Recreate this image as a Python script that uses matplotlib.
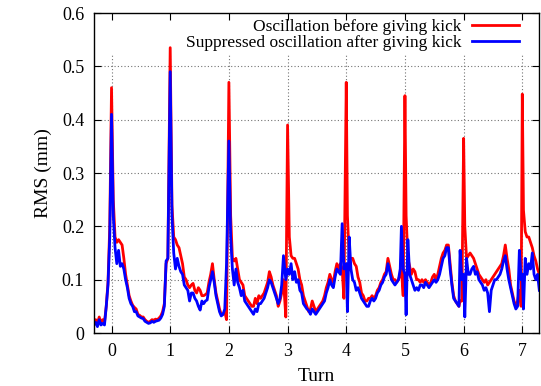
import matplotlib.pyplot as plt
from matplotlib.ticker import FixedLocator

plt.rcParams['font.family'] = ['Liberation Serif', 'DejaVu Serif']

turn = [-0.30, -0.27, -0.24, -0.21, -0.18, -0.15, -0.12, -0.09, -0.06, -0.03,
        0.00, 0.03, 0.06, 0.09, 0.12, 0.15, 0.18, 0.21, 0.24, 0.27,
        0.30, 0.33, 0.36, 0.39, 0.42, 0.45, 0.48, 0.51, 0.54, 0.57,
        0.60, 0.63, 0.66, 0.69, 0.72, 0.75, 0.78, 0.81, 0.84, 0.87,
        0.90, 0.93, 0.96, 1.00, 1.03, 1.06, 1.09, 1.12, 1.15, 1.18,
        1.21, 1.24, 1.27, 1.30, 1.33, 1.36, 1.39, 1.42, 1.45, 1.48,
        1.51, 1.54, 1.57, 1.60, 1.63, 1.66, 1.69, 1.72, 1.75, 1.78,
        1.81, 1.84, 1.87, 1.90, 1.93, 1.96, 2.00, 2.03, 2.06, 2.09,
        2.12, 2.15, 2.18, 2.21, 2.24, 2.27, 2.30, 2.33, 2.36, 2.39,
        2.42, 2.45, 2.48, 2.51, 2.54, 2.57, 2.60, 2.63, 2.66, 2.69,
        2.72, 2.75, 2.78, 2.81, 2.84, 2.87, 2.90, 2.93, 2.97, 3.00,
        3.03, 3.06, 3.09, 3.12, 3.15, 3.18, 3.21, 3.24, 3.27, 3.30,
        3.33, 3.36, 3.39, 3.42, 3.45, 3.48, 3.51, 3.54, 3.57, 3.60,
        3.63, 3.66, 3.69, 3.72, 3.75, 3.78, 3.81, 3.84, 3.87, 3.90,
        3.93, 3.96, 4.00, 4.02, 4.05, 4.08, 4.11, 4.14, 4.17, 4.20,
        4.23, 4.26, 4.29, 4.32, 4.35, 4.38, 4.41, 4.44, 4.47, 4.50,
        4.53, 4.56, 4.59, 4.62, 4.65, 4.68, 4.71, 4.74, 4.77, 4.80,
        4.83, 4.86, 4.89, 4.92, 4.94, 4.97, 5.00, 5.02, 5.05, 5.08,
        5.11, 5.14, 5.17, 5.20, 5.23, 5.26, 5.29, 5.32, 5.35, 5.38,
        5.41, 5.44, 5.47, 5.50, 5.53, 5.56, 5.59, 5.62, 5.65, 5.68,
        5.71, 5.74, 5.77, 5.80, 5.83, 5.86, 5.89, 5.92, 5.94, 5.97,
        6.00, 6.02, 6.05, 6.08, 6.11, 6.14, 6.17, 6.20, 6.23, 6.26,
        6.29, 6.32, 6.35, 6.38, 6.41, 6.44, 6.47, 6.50, 6.53, 6.56,
        6.59, 6.62, 6.65, 6.68, 6.71, 6.74, 6.77, 6.80, 6.83, 6.86,
        6.89, 6.92, 6.95, 6.98, 7.00, 7.02, 7.05, 7.08, 7.11, 7.14,
        7.17, 7.20, 7.23, 7.26, 7.29]

rms_before = [0.020, 0.025, 0.018, 0.030, 0.020, 0.025, 0.020, 0.050, 0.095, 0.200,
              0.460, 0.250, 0.180, 0.170, 0.175, 0.170, 0.165, 0.140, 0.110, 0.090,
              0.070, 0.060, 0.052, 0.048, 0.045, 0.035, 0.033, 0.030, 0.030, 0.025,
              0.022, 0.020, 0.022, 0.025, 0.024, 0.026, 0.025, 0.028, 0.032, 0.040,
              0.055, 0.130, 0.140, 0.535, 0.240, 0.180, 0.175, 0.165, 0.160, 0.145,
              0.130, 0.105, 0.100, 0.090, 0.085, 0.090, 0.093, 0.080, 0.075, 0.085,
              0.080, 0.070, 0.070, 0.072, 0.075, 0.095, 0.110, 0.130, 0.100, 0.075,
              0.060, 0.045, 0.035, 0.035, 0.040, 0.025, 0.470, 0.220, 0.140, 0.135,
              0.140, 0.120, 0.100, 0.095, 0.090, 0.070, 0.065, 0.060, 0.055, 0.050,
              0.050, 0.065, 0.055, 0.070, 0.065, 0.070, 0.075, 0.085, 0.095, 0.115,
              0.105, 0.090, 0.080, 0.070, 0.050, 0.060, 0.075, 0.100, 0.030, 0.390,
              0.180, 0.145, 0.140, 0.140, 0.130, 0.120, 0.100, 0.090, 0.070, 0.060,
              0.050, 0.040, 0.045, 0.060, 0.050, 0.040, 0.045, 0.050, 0.055, 0.060,
              0.070, 0.085, 0.095, 0.110, 0.100, 0.095, 0.115, 0.130, 0.120, 0.130,
              0.120, 0.065, 0.470, 0.220, 0.140, 0.140, 0.140, 0.130, 0.125, 0.105,
              0.095, 0.075, 0.070, 0.060, 0.060, 0.065, 0.065, 0.070, 0.065, 0.070,
              0.080, 0.085, 0.095, 0.100, 0.110, 0.115, 0.140, 0.125, 0.110, 0.100,
              0.100, 0.095, 0.100, 0.110, 0.120, 0.070, 0.445, 0.220, 0.140, 0.125,
              0.110, 0.120, 0.115, 0.100, 0.100, 0.095, 0.100, 0.095, 0.100, 0.095,
              0.090, 0.095, 0.105, 0.110, 0.100, 0.110, 0.125, 0.140, 0.150, 0.155,
              0.165, 0.165, 0.130, 0.095, 0.070, 0.060, 0.055, 0.050, 0.060, 0.060,
              0.365, 0.200, 0.140, 0.145, 0.150, 0.145, 0.140, 0.130, 0.120, 0.110,
              0.105, 0.100, 0.095, 0.100, 0.090, 0.095, 0.100, 0.105, 0.110, 0.115,
              0.120, 0.125, 0.130, 0.145, 0.165, 0.140, 0.120, 0.090, 0.075, 0.060,
              0.050, 0.060, 0.080, 0.050, 0.448, 0.230, 0.190, 0.180, 0.180, 0.170,
              0.160, 0.145, 0.135, 0.120, 0.110]

rms_after = [0.015, 0.020, 0.012, 0.025, 0.015, 0.018, 0.015, 0.050, 0.090, 0.180,
             0.410, 0.220, 0.160, 0.130, 0.155, 0.125, 0.130, 0.120, 0.100, 0.085,
             0.065, 0.055, 0.050, 0.040, 0.040, 0.032, 0.030, 0.028, 0.027, 0.022,
             0.020, 0.018, 0.019, 0.022, 0.020, 0.022, 0.023, 0.024, 0.028, 0.035,
             0.050, 0.135, 0.140, 0.490, 0.220, 0.150, 0.120, 0.140, 0.125, 0.115,
             0.110, 0.090, 0.085, 0.080, 0.060, 0.075, 0.075, 0.065, 0.060, 0.050,
             0.043, 0.060, 0.055, 0.060, 0.062, 0.085, 0.100, 0.115, 0.095, 0.070,
             0.055, 0.040, 0.032, 0.035, 0.045, 0.130, 0.360, 0.180, 0.120, 0.090,
             0.120, 0.095, 0.085, 0.070, 0.080, 0.060, 0.055, 0.050, 0.045, 0.040,
             0.035, 0.045, 0.040, 0.055, 0.055, 0.060, 0.065, 0.075, 0.085, 0.100,
             0.095, 0.085, 0.075, 0.065, 0.055, 0.065, 0.090, 0.145, 0.100, 0.120,
             0.110, 0.130, 0.100, 0.115, 0.095, 0.100, 0.080, 0.075, 0.055, 0.050,
             0.045, 0.042, 0.035, 0.045, 0.040, 0.035, 0.040, 0.045, 0.050, 0.055,
             0.060, 0.075, 0.085, 0.100, 0.090, 0.085, 0.105, 0.120, 0.115, 0.110,
             0.205, 0.120, 0.130, 0.040, 0.180, 0.120, 0.100, 0.095, 0.080, 0.085,
             0.075, 0.065, 0.060, 0.055, 0.050, 0.050, 0.060, 0.065, 0.060, 0.065,
             0.075, 0.080, 0.090, 0.095, 0.105, 0.110, 0.130, 0.115, 0.100, 0.095,
             0.090, 0.095, 0.100, 0.120, 0.200, 0.120, 0.110, 0.034, 0.175, 0.110,
             0.100, 0.090, 0.080, 0.085, 0.080, 0.090, 0.090, 0.085, 0.095, 0.090,
             0.085, 0.090, 0.095, 0.100, 0.095, 0.100, 0.110, 0.125, 0.140, 0.145,
             0.160, 0.160, 0.120, 0.090, 0.065, 0.060, 0.055, 0.050, 0.155, 0.100,
             0.110, 0.030, 0.140, 0.110, 0.110, 0.120, 0.125, 0.110, 0.115, 0.100,
             0.095, 0.090, 0.080, 0.085, 0.075, 0.040, 0.080, 0.090, 0.100, 0.100,
             0.105, 0.110, 0.120, 0.135, 0.145, 0.120, 0.100, 0.085, 0.070, 0.055,
             0.045, 0.050, 0.155, 0.100, 0.110, 0.045, 0.140, 0.110, 0.130, 0.120,
             0.150, 0.110, 0.100, 0.110, 0.080]

y_ticks = [0, 0.1, 0.2, 0.3, 0.4, 0.5, 0.6]
y_labels = ['0', '0.1', '0.2', '0.3', '0.4', '0.5', '0.6']
x_ticks = [0, 1, 2, 3, 4, 5, 6, 7]

fig = plt.figure(figsize=(5.41, 3.86), dpi=100)
ax = fig.add_axes([0.1736, 0.1373, 0.8233, 0.829])

# gnuplot style dotted grid, vertical lines stop below the key
for y in y_ticks[1:-1]:
    ax.axhline(y, color='0.45', linestyle=(0, (1, 2)), linewidth=0.8, zorder=0)
for x in x_ticks:
    ax.plot([x, x], [0, 0.525], color='0.45', linestyle=(0, (1, 2)), linewidth=0.8, zorder=0)

ax.plot(turn, rms_before, color='#ff0000', linewidth=2.0,
        label='Oscillation before giving kick')
ax.plot(turn, rms_after, color='#0000ff', linewidth=2.0,
        label='Suppressed oscillation after giving kick')

ax.set_xlim(-0.30, 7.29)
ax.set_ylim(0, 0.6)
ax.xaxis.set_major_locator(FixedLocator(x_ticks))
ax.set_yticks(y_ticks)
ax.set_yticklabels(y_labels)
ax.tick_params(direction='in', top=True, right=True, length=5, width=0.8,
               labelsize=13, pad=7)
for s in ax.spines.values():
    s.set_linewidth(1.0)

ax.set_xlabel('Turn', fontsize=14, labelpad=6)
ax.set_ylabel('RMS (mm)', fontsize=14, labelpad=7)

ax.legend(loc='upper right', frameon=False, fontsize=12.5, markerfirst=False,
          handlelength=2.7, handletextpad=0.6, labelspacing=0.0,
          borderaxespad=0.1, bbox_to_anchor=(0.974, 1.01))

fig.savefig('out.png', dpi=100)
